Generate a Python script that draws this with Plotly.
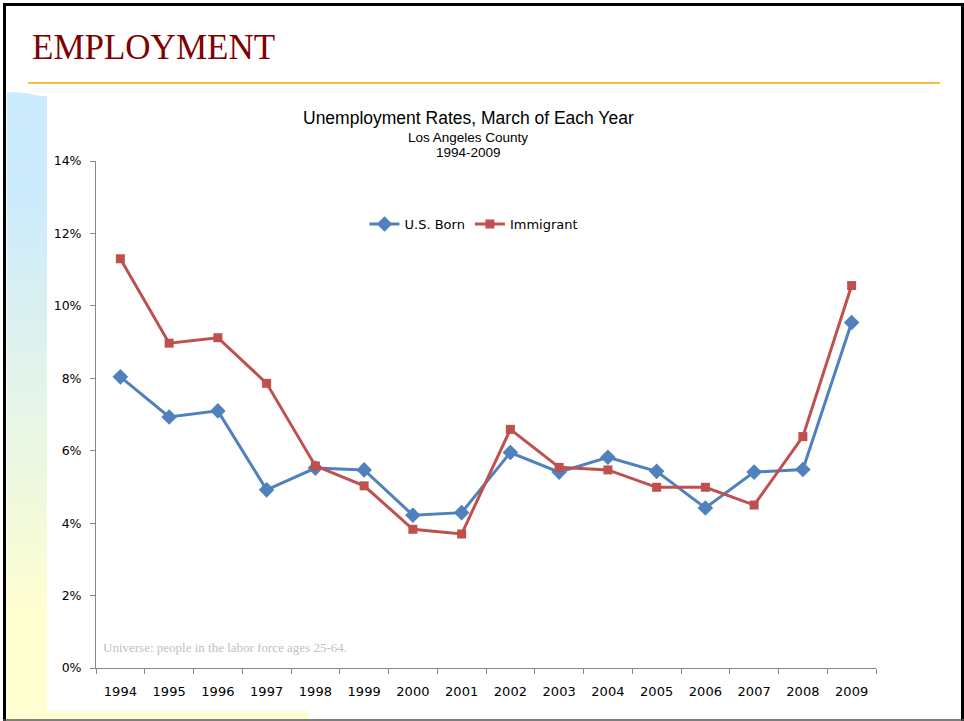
import plotly.graph_objects as go

years = ["1994", "1995", "1996", "1997", "1998", "1999", "2000", "2001",
         "2002", "2003", "2004", "2005", "2006", "2007", "2008", "2009"]
us_born = [8.04, 6.93, 7.10, 4.92, 5.52, 5.47, 4.22, 4.29,
           5.95, 5.41, 5.82, 5.43, 4.42, 5.41, 5.48, 9.54]
immigrant = [11.30, 8.97, 9.12, 7.86, 5.58, 5.03, 3.83, 3.70,
             6.59, 5.54, 5.47, 4.99, 4.99, 4.50, 6.39, 10.56]
y_ticks = [0, 2, 4, 6, 8, 10, 12, 14]

W, H = 964, 721
L, R, T, B = 96, 876, 161, 668


def px(x):
    return (x - L) / (R - L)


def py(y):
    return (B - y) / (B - T)


fig = go.Figure()
fig.add_trace(go.Scatter(
    x=years, y=us_born, name="U.S. Born", mode="lines+markers",
    line=dict(color="#4F81BD", width=3),
    marker=dict(symbol="diamond", size=12, color="#4F81BD"),
))
fig.add_trace(go.Scatter(
    x=years, y=immigrant, name="Immigrant", mode="lines+markers",
    line=dict(color="#C0504D", width=3),
    marker=dict(symbol="square", size=9, color="#C0504D"),
))

shapes = []


def lerp(c1, c2, t):
    return "#%02X%02X%02X" % tuple(int(round(a + (b - a) * t)) for a, b in zip(c1, c2))


top_c = (0xCC, 0xEB, 0xFC)
bot_c = (0xFF, 0xFF, 0xD0)
y0, y1 = 96, 720
n = 64
for i in range(n):
    ya = y0 + (y1 - y0) * i / n
    yb = y0 + (y1 - y0) * (i + 1) / n
    ym = (ya + yb) / 2
    t = min(max((ym - 200) / (620 - 200), 0), 1)
    shapes.append(dict(type="rect", xref="paper", yref="paper", layer="below",
                       x0=px(7), x1=px(47), y0=py(ya), y1=py(yb + 0.5),
                       fillcolor=lerp(top_c, bot_c, t), line=dict(width=0)))
# curved top of the bar
shapes.append(dict(type="path", xref="paper", yref="paper", layer="below",
                   path="M %f,%f Q %f,%f %f,%f L %f,%f L %f,%f Z" % (
                       px(7), py(92), px(30), py(92), px(47), py(98),
                       px(47), py(96.5), px(7), py(96.5)),
                   fillcolor="#CCEBFC", line=dict(width=0)))
# bottom strip
shapes.append(dict(type="rect", xref="paper", yref="paper", layer="below",
                   x0=px(47), x1=px(308), y0=py(711), y1=py(719.5),
                   fillcolor="#FFFFD0", line=dict(width=0)))
# orange rule
shapes.append(dict(type="line", xref="paper", yref="paper",
                   x0=px(28), x1=px(940), y0=py(83), y1=py(83),
                   line=dict(color="#F5BE3C", width=2)))
# frame
shapes.append(dict(type="line", xref="paper", yref="paper",
                   x0=px(3), x1=px(964), y0=py(4.5), y1=py(4.5),
                   line=dict(color="#000000", width=3)))
shapes.append(dict(type="line", xref="paper", yref="paper",
                   x0=px(4.5), x1=px(4.5), y0=py(3), y1=py(721),
                   line=dict(color="#000000", width=3)))
shapes.append(dict(type="line", xref="paper", yref="paper",
                   x0=px(962.5), x1=px(962.5), y0=py(3), y1=py(721),
                   line=dict(color="#000000", width=3)))
shapes.append(dict(type="line", xref="paper", yref="paper",
                   x0=px(3), x1=px(964), y0=py(720), y1=py(720),
                   line=dict(color="#555555", width=1.5)))

annotations = [
    dict(text="EMPLOYMENT", xref="paper", yref="paper", x=px(30), y=py(48),
         xanchor="left", yanchor="middle", showarrow=False,
         font=dict(family="Liberation Serif", size=35, color="#7F0000")),
    dict(text="Unemployment Rates, March of Each Year", xref="paper", yref="paper",
         x=px(468), y=py(118), xanchor="center", yanchor="middle", showarrow=False,
         font=dict(family="Liberation Sans", size=17.5, color="#000000")),
    dict(text="Los Angeles County", xref="paper", yref="paper",
         x=px(468), y=py(137), xanchor="center", yanchor="middle", showarrow=False,
         font=dict(family="Liberation Sans", size=13.5, color="#000000")),
    dict(text="1994-2009", xref="paper", yref="paper",
         x=px(468), y=py(153), xanchor="center", yanchor="middle", showarrow=False,
         font=dict(family="Liberation Sans", size=13.5, color="#000000")),
    dict(text="Universe: people in the labor force ages 25-64.", xref="paper", yref="paper",
         x=px(101), y=py(647), xanchor="left", yanchor="middle", showarrow=False,
         font=dict(family="Liberation Serif", size=13, color="#BFBFBF")),
]

fig.update_layout(
    width=W, height=H,
    margin=dict(l=L, r=W - R, t=T, b=H - B, pad=0),
    paper_bgcolor="#FFFFFF", plot_bgcolor="#FFFFFF",
    shapes=shapes, annotations=annotations,
    showlegend=True,
    legend=dict(orientation="h", x=px(474), y=py(224), xanchor="center", yanchor="middle",
                font=dict(family="DejaVu Sans", size=13, color="#000000"),
                bgcolor="rgba(0,0,0,0)", itemwidth=30, tracegroupgap=0),
    xaxis=dict(type="category", range=[-0.5, 15.5], tickson="boundaries",
               showline=True, linecolor="#868686", linewidth=1,
               ticks="outside", ticklen=5, tickcolor="#868686",
               showgrid=False, zeroline=False, ticklabelstandoff=11,
               tickfont=dict(family="DejaVu Sans", size=13, color="#000000")),
    yaxis=dict(range=[0, 14], tickvals=y_ticks, ticktext=[f"{v}%" for v in y_ticks],
               showline=True, linecolor="#868686", linewidth=1,
               ticks="outside", ticklen=5, tickcolor="#868686",
               showgrid=False, zeroline=False, ticklabelstandoff=6,
               tickfont=dict(family="DejaVu Sans", size=12.5, color="#000000")),
)

fig.write_html("out.html", config={"displayModeBar": False},
               post_script="document.body.style.margin='0';document.body.style.overflow='hidden';")
